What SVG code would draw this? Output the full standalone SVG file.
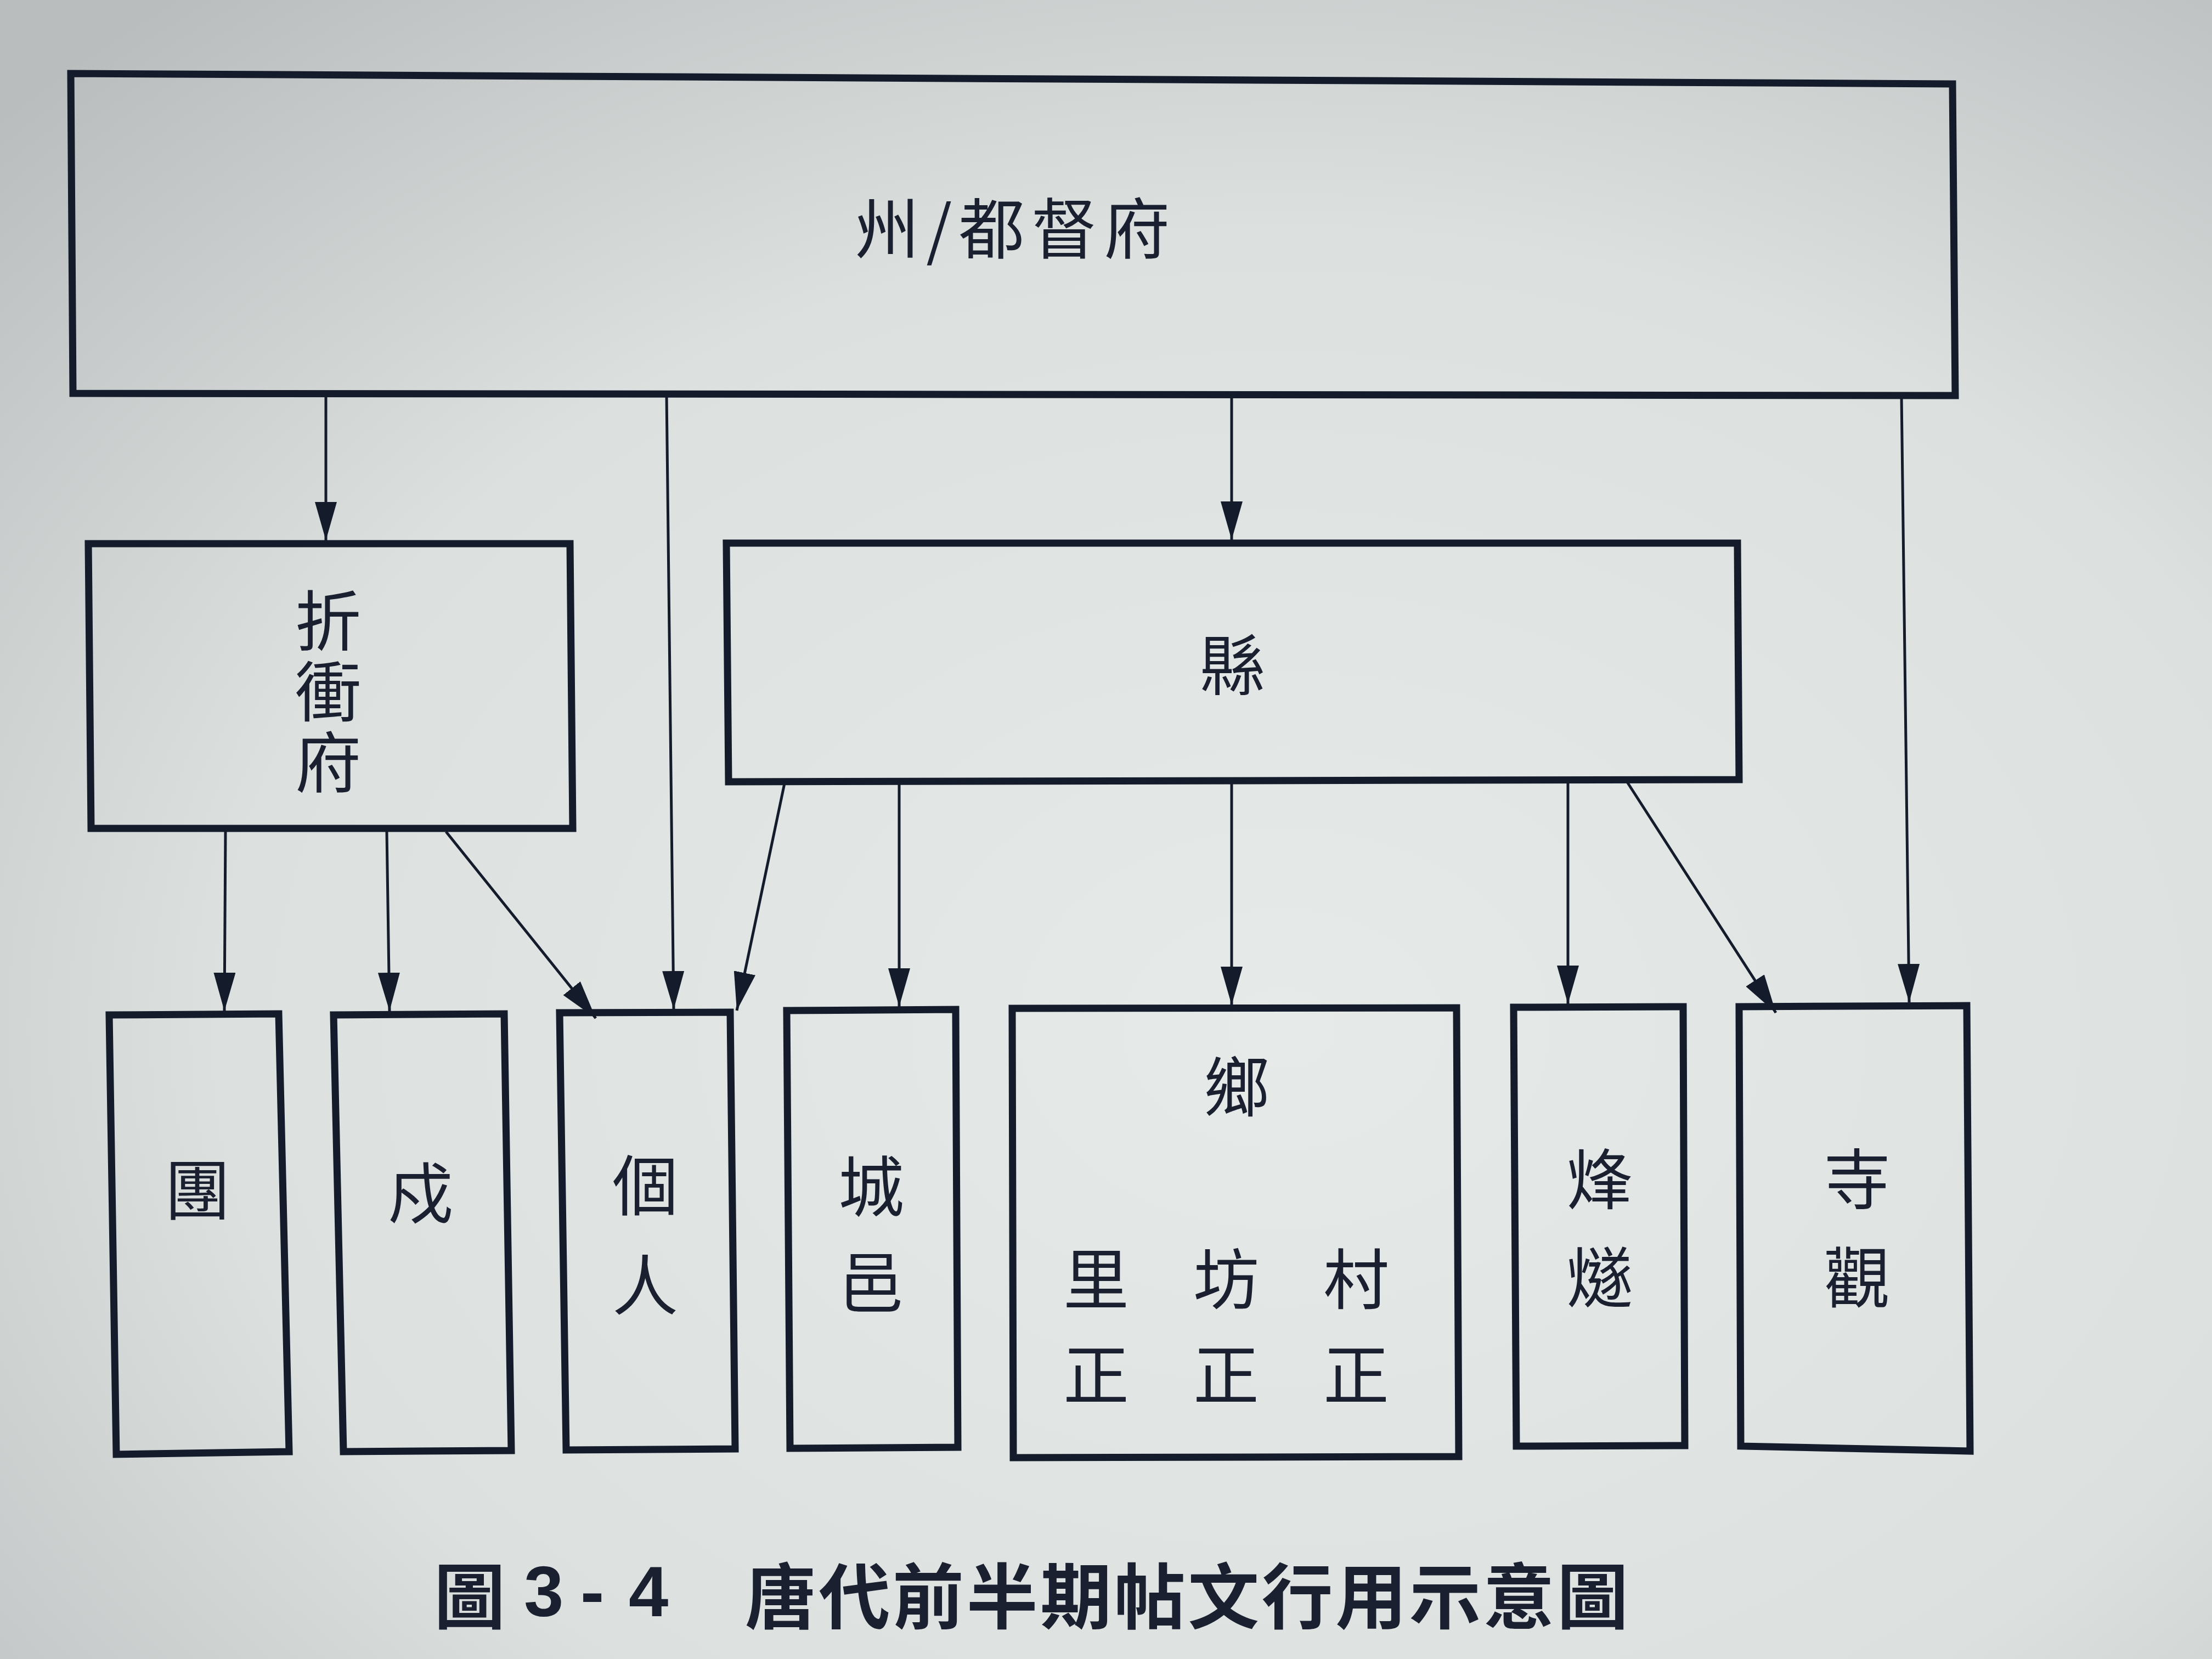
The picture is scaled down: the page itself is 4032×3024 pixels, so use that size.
<svg xmlns="http://www.w3.org/2000/svg" width="4032" height="3024" viewBox="0 0 4032 3024">
<defs>
<radialGradient id="paper" cx="58%" cy="62%" r="80%">
<stop offset="0" stop-color="#e6eae9"/>
<stop offset="0.6" stop-color="#dce0df"/>
<stop offset="1" stop-color="#b9bdbd"/>
</radialGradient>
<marker id="arr" viewBox="0 0 70 40" refX="70" refY="20" markerWidth="70" markerHeight="40" markerUnits="userSpaceOnUse" orient="auto">
<path d="M0,0 L70,20 L0,40 z" fill="#141c2c"/>
</marker>
<style>
.box{fill:none;stroke:#141c2c;stroke-width:13;stroke-linejoin:miter}
.ln{fill:none;stroke:#141c2c;stroke-width:5;marker-end:url(#arr)}
.lb{font-family:"Noto Sans CJK TC","Noto Sans CJK SC",sans-serif;font-size:120px;fill:#1a2030;text-anchor:middle;dominant-baseline:central}
.vt{font-family:"Noto Sans CJK TC","Noto Sans CJK SC",sans-serif;font-size:120px;fill:#1a2030;writing-mode:vertical-rl;text-anchor:start}
.cap{font-family:"Noto Sans CJK TC","Noto Sans CJK SC",sans-serif;font-size:130px;font-weight:bold;fill:#1a2030;dominant-baseline:central}
.num{font-family:"Liberation Sans",sans-serif;font-size:130px;font-weight:bold;fill:#1a2030;dominant-baseline:central}
</style>
</defs>
<rect x="0" y="0" width="4032" height="3024" fill="url(#paper)"/>

<g id="zhou">
<polygon class="box" points="129,134 3559,153 3564,721 133,717"/>
<text class="lb" x="1844" y="410" textLength="576" lengthAdjust="spacing">州/都督府</text>
</g>
<g id="zhechongfu">
<polygon class="box" points="161,991 1039,991 1044,1510 166,1510"/>
<text class="vt" x="598" y="1071" letter-spacing="9">折衝府</text>
</g>
<g id="xian">
<polygon class="box" points="1324,990 3167,990 3170,1421 1328,1425"/>
<text class="lb" x="2247" y="1206">縣</text>
</g>
<g id="tuan">
<polygon class="box" points="199,1850 508,1848 527,2646 212,2651"/>
<text class="lb" x="360" y="2162">團</text>
</g>
<g id="shu">
<polygon class="box" points="608,1850 919,1848 932,2644 626,2646"/>
<text class="lb" x="767" y="2168">戍</text>
</g>
<g id="geren">
<polygon class="box" points="1020,1846 1331,1845 1340,2641 1032,2643"/>
<text class="vt" x="1176" y="2100" letter-spacing="62">個人</text>
</g>
<g id="chengyi">
<polygon class="box" points="1434,1842 1742,1840 1746,2638 1440,2640"/>
<text class="vt" x="1588" y="2102" letter-spacing="55">城邑</text>
</g>
<g id="xiang">
<polygon class="box" points="1845,1838 2655,1837 2659,2655 1847,2657"/>
<text class="lb" x="2254" y="1974">鄉</text>
<text class="vt" x="1998" y="2271" letter-spacing="54">里正</text>
<text class="vt" x="2235" y="2271" letter-spacing="54">坊正</text>
<text class="vt" x="2472" y="2271" letter-spacing="54">村正</text>
</g>
<g id="fengsui">
<polygon class="box" points="2759,1836 3068,1835 3071,2635 2764,2636"/>
<text class="vt" x="2916" y="2089" letter-spacing="59">烽燧</text>
</g>
<g id="siguan">
<polygon class="box" points="3170,1835 3585,1833 3591,2645 3173,2636"/>
<text class="vt" x="3385" y="2089" letter-spacing="59">寺觀</text>
</g>

<g id="connectors">
<path class="ln" d="M594,720 L594,985"/>
<path class="ln" d="M1215,720 L1228,1840"/>
<path class="ln" d="M2245,722 L2245,984"/>
<path class="ln" d="M3466,722 L3480,1827"/>
<path class="ln" d="M411,1516 L409,1843"/>
<path class="ln" d="M705,1516 L710,1843"/>
<path class="ln" d="M813,1516 L1086,1856"/>
<path class="ln" d="M1430,1428 L1343,1842"/>
<path class="ln" d="M1639,1426 L1639,1835"/>
<path class="ln" d="M2245,1425 L2245,1832"/>
<path class="ln" d="M2858,1424 L2858,1830"/>
<path class="ln" d="M2965,1424 L3237,1846"/>
</g>

<g id="caption">
<text class="cap" x="791" y="2901">圖</text>
<text class="num" x="955" y="2901">3</text>
<text class="num" x="1058" y="2901">-</text>
<text class="num" x="1146" y="2901">4</text>
<text class="cap" x="1358" y="2901" textLength="1610" lengthAdjust="spacing">唐代前半期帖文行用示意圖</text>
</g>
</svg>
